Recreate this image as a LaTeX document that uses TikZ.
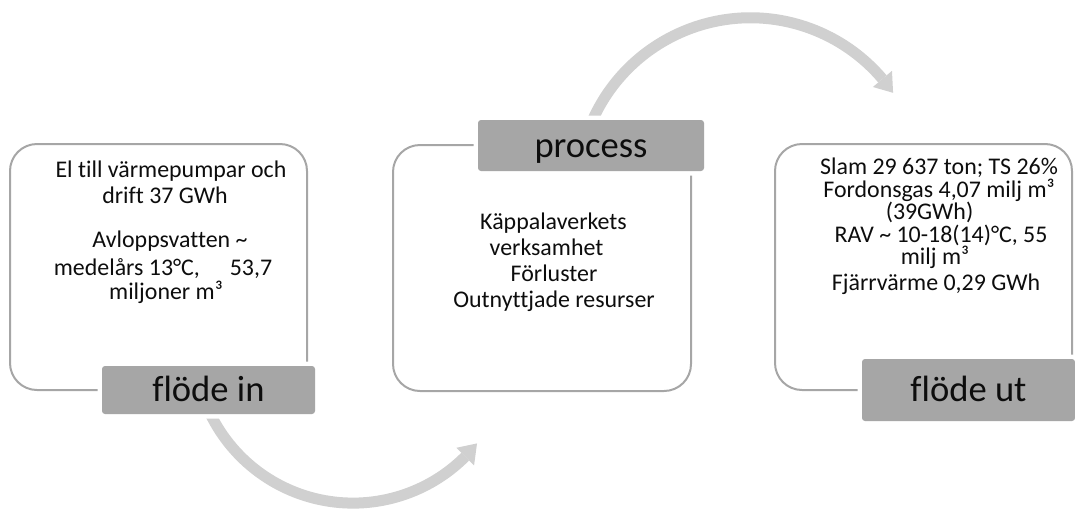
\documentclass[tikz,border=0pt]{standalone}
\usepackage{fontspec}
\setmainfont{Carlito}[Ligatures={NoCommon}]
\definecolor{boxline}{RGB}{166,166,166}
\definecolor{labelfill}{RGB}{166,166,166}
\definecolor{arrowgray}{RGB}{208,208,208}
\definecolor{ink}{RGB}{13,13,13}
\begin{document}
\begin{tikzpicture}[x=1pt,y=1pt,
  frame/.style={draw=boxline, line width=2pt, rounded corners=27pt},
  tag/.style={fill=labelfill, rounded corners=3pt, preaction={draw=white, line width=9pt},
    inner sep=0pt, text height=27.4pt, text depth=3.7pt, text=ink,
    font=\fontsize{36.6}{40}\selectfont},
  body/.style={anchor=base, inner sep=0pt, text=ink, font=\fontsize{23.9}{28}\selectfont},
  band/.style={draw=arrowgray, line width=11pt},
  head/.style={fill=arrowgray}]
\useasboundingbox (0,0) rectangle (1075,-509);

% circular arrows
\coordinate (ca) at (353,-344.4);
\coordinate (cb) at (750.5,-190.8);
\draw[band] ([shift={(200:158.7)}]ca) arc[start angle=200, end angle=315, radius=158.7];
\fill[head] ([shift={(315:146.2)}]ca) -- ([shift={(321.4:158.7)}]ca) -- ([shift={(315:171.2)}]ca) -- cycle;
\draw[band] ([shift={(160:173)}]cb) arc[start angle=160, end angle=40.3, radius=173];
\fill[head] ([shift={(40.3:160.5)}]cb) -- ([shift={(34.5:173)}]cb) -- ([shift={(40.3:185.5)}]cb) -- cycle;

% boxes
\draw[frame] (10,-144) rectangle (307,-390);
\draw[frame] (393,-145) rectangle (691,-391);
\draw[frame] (775,-144) rectangle (1072,-390);

% labels
\node[tag, minimum width=213pt, minimum height=48pt] (labin) at (208.5,-390) {flöde in};
\node[tag, minimum width=226pt, minimum height=51pt] (labproc) at (591,-145.5) {process};
\node[tag, minimum width=213pt, minimum height=62pt] (labout) at (968.5,-390) {flöde ut};

% texts
\node[body] (in1) at (171,-177) {El till värmepumpar och};
\node[body] (in2) at (165,-203) {drift 37 GWh};
\node[body] (in3) at (170,-247) {Avloppsvatten \textasciitilde};
\node[body] (in4) at (163,-275) {medelårs 13°C,\hspace{30pt}53,7};
\node[body] (in5) at (166,-299) {miljoner m³};

\node[body] (pr1) at (553.5,-229) {Käppalaverkets};
\node[body] (pr2) at (546.5,-255) {verksamhet};
\node[body] (pr3) at (554,-281) {Förluster};
\node[body] (pr4) at (554,-307) {Outnyttjade resurser};

\node[body] (ut1) at (939,-174) {Slam 29 637 ton; TS 26\%};
\node[body] (ut2) at (939,-197) {Fordonsgas 4,07 milj m³};
\node[body] (ut3) at (929.5,-219) {(39GWh)};
\node[body] (ut4) at (941,-242) {RAV \textasciitilde{} 10-18(14)°C, 55};
\node[body] (ut5) at (935,-264) {milj m³};
\node[body] (ut6) at (936,-290) {Fjärrvärme 0,29 GWh};
\end{tikzpicture}
\end{document}
